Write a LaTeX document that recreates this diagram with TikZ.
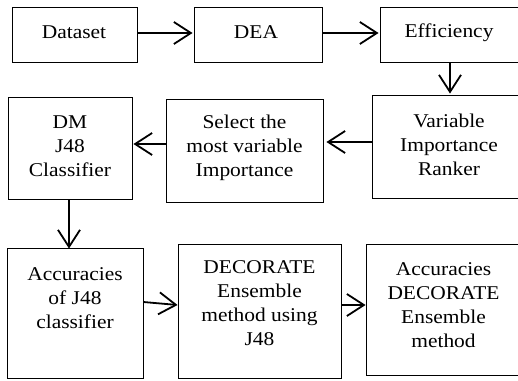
\documentclass[tikz,border=0pt]{standalone}
\usepackage{fontspec}
\setmainfont{Liberation Serif}[FakeStretch=1.1]
\usetikzlibrary{arrows.meta}
\tikzset{
  box/.style={draw, line width=0.9pt, rectangle, inner sep=0pt},
  txt/.style={font=\fontsize{19.5pt}{24pt}\selectfont, align=center, inner sep=0pt},
  arr/.style={line width=1.8pt, -{Straight Barb[length=17pt,width=22pt,line width=1.8pt]}}
}
\begin{document}
\begin{tikzpicture}[x=1pt,y=-1pt]
\useasboundingbox (0,0) rectangle (518,380);
\clip (0,0) rectangle (518,380);
\fill[white] (0,0) rectangle (518,380);
% row 1
\node[box, minimum width=125pt, minimum height=55pt] (dataset) at (74.5,34.5) {};
\node[txt] (datasett) at (74,32.5) {Dataset};
\node[box, minimum width=128pt, minimum height=55pt] (dea) at (258,34.5) {};
\node[txt] (deat) at (256,32.5) {DEA};
\node[box, minimum width=140pt, minimum height=55pt] (eff) at (450,34.5) {};
\node[txt] (efft) at (449,32.5) {Efficiency};
% row 2
\node[box, minimum width=124pt, minimum height=102pt] (dm) at (70,148) {};
\node[txt] (dmt) at (70,146) {DM\\J48\\Classifier};
\node[box, minimum width=157pt, minimum height=103pt] (sel) at (244.5,150.5) {};
\node[txt] (selt) at (244.5,148) {Select the\\most variable\\Importance};
\node[box, minimum width=154pt, minimum height=103pt] (var) at (449,146.5) {};
\node[txt] (vart) at (449,144.5) {Variable\\Importance\\Ranker};
% row 3
\node[box, minimum width=136pt, minimum height=130pt] (accj) at (75,313) {};
\node[txt] (accjt) at (75,298) {Accuracies\\of J48\\classifier};
\node[box, minimum width=163pt, minimum height=134pt] (dec) at (259.5,311) {};
\node[txt] (dect) at (259.5,303) {DECORATE\\Ensemble\\method using\\J48};
\node[box, minimum width=155pt, minimum height=131pt] (accd) at (443.5,309.5) {};
\node[txt] (accdt) at (443.5,305.5) {Accuracies\\DECORATE\\Ensemble\\method};
% connectors
\draw[arr] (dataset.east |- 0,33) -- ([xshift=-1pt]dea.west |- 0,33);
\draw[arr] (dea.east |- 0,33) -- ([xshift=-1pt]eff.west |- 0,33);
\draw[arr] (eff.south -| 450,0) -- ([yshift=1pt]var.north -| 450,0);
\draw[arr] (var.west |- 0,142) -- ([xshift=3pt]sel.east |- 0,142);
\draw[arr] (sel.west |- 0,144) -- ([xshift=1pt]dm.east |- 0,144);
\draw[arr] (dm.south -| 69,0) -- ([yshift=-1pt]accj.north -| 69,0);
\draw[arr] (accj.east |- 0,302) -- (dec.west |- 0,305);
\draw[arr] (dec.east |- 0,305) -- (accd.west |- 0,305);
\end{tikzpicture}
\end{document}
